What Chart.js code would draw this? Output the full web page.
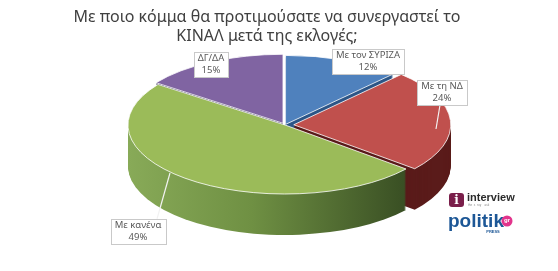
<!DOCTYPE html>
<html>
<head>
<meta charset="utf-8">
<script src="https://cdn.jsdelivr.net/npm/chart.js@4.4.1/dist/chart.umd.min.js"></script>
<style>
  html, body { margin: 0; padding: 0; background: #fff; }
</style>
</head>
<body>
<canvas id="pieChart" width="558" height="271"></canvas>
<script>
// data
const categories = ['Με τον ΣΥΡΙΖΑ', 'Με τη ΝΔ', 'Με κανένα', 'ΔΓ/ΔΑ'];
const shares = [12, 24, 49, 15];
const titleLines = ['Με ποιο κόμμα θα προτιμούσατε να συνεργαστεί το', 'ΚΙΝΑΛ μετά της εκλογές;'];

// look of the 3d pie
const topColors = ['#4f81bd', '#c0504d', '#9bbb59', '#8064a2'];
const sideColors = ['#2d5687', '#5a1b1a', null, '#2b254e'];
const PIE = { cx: 285, cy: 125, rx: 157, ry: 69, depth: 41 };
// label boxes, relative to the pie centre
const labelSpots = [
    { dx: 83, dy: -64 },
    { dx: 157, dy: -33 },
    { dx: -147, dy: 106 },
    { dx: -74, dy: -61 }
];
const leaders = [null, [[155, -20], [151, 4]], [[-128, 94], [-115, 48]], null];

const pie3d = {
    id: 'pie3d',
    beforeDatasetsDraw(chart) {
        const ctx = chart.ctx;
        const arcs = chart.getDatasetMeta(0).data;
        const R = arcs[0].outerRadius, ox = arcs[0].x, oy = arcs[0].y;
        const sx = PIE.rx / R, sy = PIE.ry / R;

        function slicePath(el, shift) {
            const off = el.options.offset || 0;
            const mid = (el.startAngle + el.endAngle) / 2;
            const x = el.x + Math.cos(mid) * off;
            const y = el.y + Math.sin(mid) * off;
            ctx.save();
            ctx.translate(PIE.cx, PIE.cy + shift);
            ctx.scale(sx, sy);
            ctx.translate(-ox, -oy);
            ctx.beginPath();
            ctx.moveTo(x, y);
            ctx.arc(x, y, el.outerRadius, el.startAngle, el.endAngle);
            ctx.closePath();
            ctx.restore();
        }

        const greenSide = ctx.createLinearGradient(PIE.cx - PIE.rx, 0, PIE.cx + PIE.rx * 0.75, 0);
        greenSide.addColorStop(0, '#88aa58');
        greenSide.addColorStop(0.45, '#6f9043');
        greenSide.addColorStop(1, '#3a5024');

        // sides, from the bottom layer up
        for (let k = PIE.depth; k >= 1; k--) {
            arcs.forEach((el, i) => {
                slicePath(el, k);
                ctx.fillStyle = sideColors[i] || greenSide;
                ctx.fill();
            });
        }
        // top faces
        arcs.forEach((el, i) => {
            slicePath(el, 0);
            ctx.fillStyle = topColors[i];
            ctx.fill();
            ctx.strokeStyle = 'rgba(255,255,255,0.8)';
            ctx.lineWidth = 1;
            ctx.stroke();
        });

        // leader lines
        ctx.save();
        ctx.strokeStyle = '#f2f2f2';
        ctx.lineWidth = 1.2;
        leaders.forEach(l => {
            if (!l) return;
            ctx.beginPath();
            ctx.moveTo(PIE.cx + l[0][0], PIE.cy + l[0][1]);
            ctx.lineTo(PIE.cx + l[1][0], PIE.cy + l[1][1]);
            ctx.stroke();
        });
        ctx.restore();

        // label boxes
        ctx.save();
        ctx.font = '9.5px "Noto Sans"';
        ctx.textAlign = 'center';
        ctx.textBaseline = 'middle';
        categories.forEach((name, i) => {
            const lx = PIE.cx + labelSpots[i].dx, ly = PIE.cy + labelSpots[i].dy;
            const pct = shares[i] + '%';
            const w = Math.max(ctx.measureText(name).width, ctx.measureText(pct).width) + 8;
            const h = 25;
            ctx.fillStyle = '#ffffff';
            ctx.fillRect(Math.round(lx - w / 2) + 0.5, Math.round(ly - h / 2) + 0.5, Math.round(w), h);
            ctx.strokeStyle = '#c9c9c9';
            ctx.lineWidth = 1;
            ctx.strokeRect(Math.round(lx - w / 2) + 0.5, Math.round(ly - h / 2) + 0.5, Math.round(w), h);
            ctx.fillStyle = '#5a5a5a';
            ctx.fillText(name, lx, ly - 6);
            ctx.fillText(pct, lx, ly + 6);
        });
        ctx.restore();
        return false;
    },
    afterDraw(chart) {
        // source logos
        const ctx = chart.ctx;
        ctx.save();
        ctx.fillStyle = '#7a1e4a';
        ctx.beginPath();
        ctx.roundRect(449, 193, 15, 14, 3);
        ctx.fill();
        ctx.fillStyle = '#fff';
        ctx.font = 'bold 12px "DejaVu Serif"';
        ctx.textAlign = 'center';
        ctx.textBaseline = 'middle';
        ctx.fillText('i', 456.5, 200.5);
        ctx.textAlign = 'left';
        ctx.fillStyle = '#2b2b2b';
        ctx.font = 'bold 11px "Liberation Sans"';
        ctx.fillText('interview', 467, 198);
        ctx.fillStyle = '#888';
        ctx.font = '3px "Liberation Sans"';
        ctx.fillText('the  s  ruy    ask', 468, 205);
        ctx.fillStyle = '#1d5796';
        ctx.font = 'bold 19px "Liberation Sans Narrow", "Liberation Sans"';
        ctx.fillText('politik', 448, 222);
        ctx.fillStyle = '#e2348c';
        ctx.beginPath();
        ctx.arc(507, 221, 5.5, 0, Math.PI * 2);
        ctx.fill();
        ctx.fillStyle = '#fff';
        ctx.font = 'bold 6px "Liberation Sans"';
        ctx.textAlign = 'center';
        ctx.fillText('gr', 507, 220.5);
        ctx.fillStyle = '#1d5796';
        ctx.font = 'bold 4px "Liberation Sans"';
        ctx.fillText('PRESS', 493, 232);
        ctx.restore();
    }
};

new Chart(document.getElementById('pieChart'), {
    type: 'pie',
    data: {
        labels: categories,
        datasets: [{
            data: shares,
            backgroundColor: topColors,
            offset: [1, 6, 0, 3],
            borderWidth: 0
        }]
    },
    options: {
        responsive: false,
        animation: false,
        events: [],
        layout: { padding: { left: 0, right: 24, top: 0, bottom: 0 } },
        plugins: {
            legend: { display: false },
            tooltip: { enabled: false },
            title: {
                display: true,
                text: titleLines,
                color: '#404040',
                font: { family: '"Noto Sans"', size: 16, weight: 'normal', lineHeight: 1.2 },
                padding: { top: 8, bottom: 4 }
            }
        }
    },
    plugins: [pie3d]
});
</script>
</body>
</html>
